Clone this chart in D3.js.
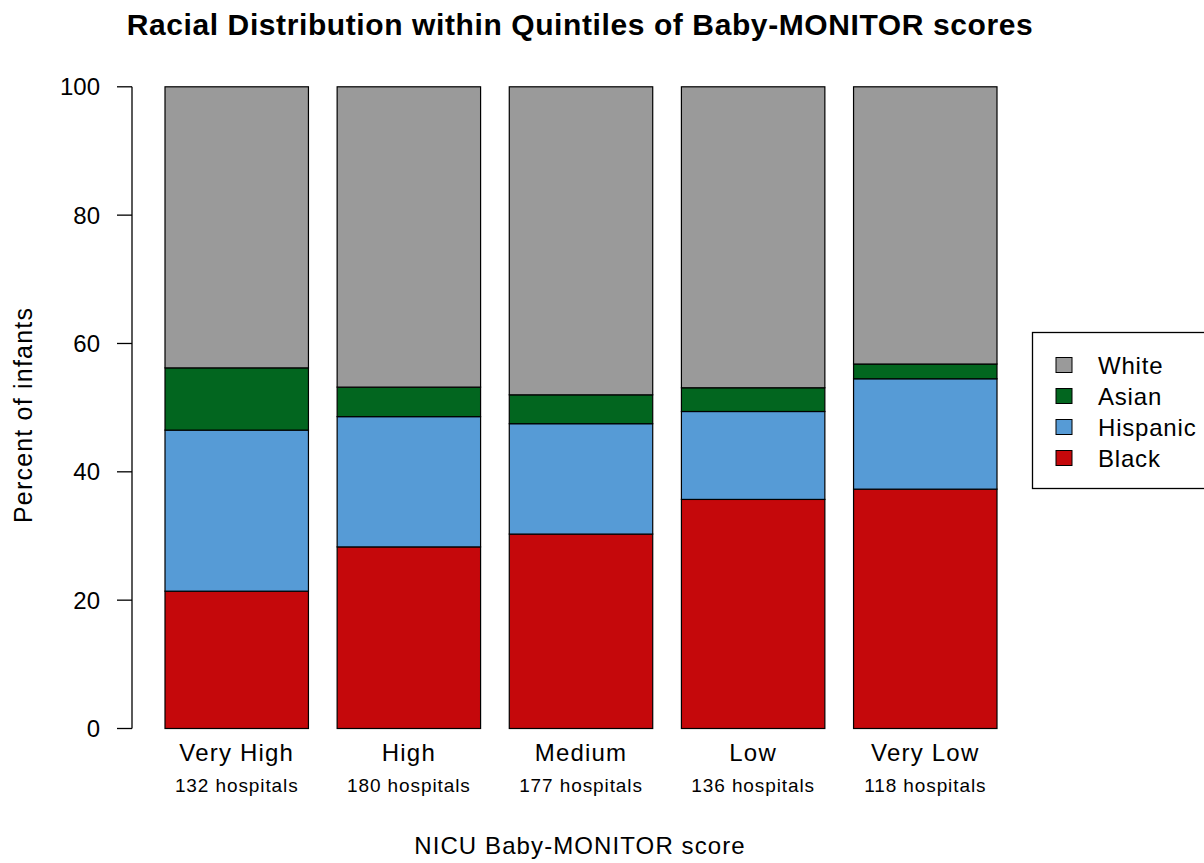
<!DOCTYPE html>
<html lang="en">
<head>
    <meta charset="utf-8">
    <title>Racial Distribution within Quintiles</title>
    <script src="https://d3js.org/d3.v7.min.js"></script>
    <style type="text/css">
        body{
            margin: 0;
            background: #fff;
        }
        svg text{
            font-family: "Liberation Sans", Arial, sans-serif;
            fill: #000;
        }
    </style>
</head>
<body>
    <div id="frame"></div>
    <script type="text/javascript">

        // data
        const quintiles = ["Very High", "High", "Medium", "Low", "Very Low"];
        const hospitals = ["132 hospitals", "180 hospitals", "177 hospitals", "136 hospitals", "118 hospitals"];
        const races = ["Black", "Hispanic", "Asian", "White"];
        const black = [21.4, 28.3, 30.3, 35.7, 37.3];
        const hispanic = [25.1, 20.3, 17.2, 13.7, 17.2];
        const asian = [9.7, 4.6, 4.5, 3.7, 2.3];
        const white = [43.8, 46.8, 48.0, 46.9, 43.2];
        const yTicks = [0, 20, 40, 60, 80, 100];
        const colors = ["#c5080b", "#569bd6", "#02661f", "#9a9a9a"];

        const W = 1204, H = 863;

        const rows = quintiles.map((q, i) => ({
            q: q,
            Black: black[i],
            Hispanic: hispanic[i],
            Asian: asian[i],
            White: white[i]
        }));

        const stack = d3.stack().keys(races)(rows);

        const svg = d3.select("#frame").append("svg")
            .attr("width", W)
            .attr("height", H);

        const x = d3.scaleBand()
            .domain(quintiles)
            .range([165, 997])
            .paddingInner(1/6)
            .paddingOuter(0);

        const y = d3.scaleLinear()
            .domain([0, 100])
            .range([728.5, 86.8]);

        //stacked bars
        const layers = svg.selectAll("g.layer")
            .data(stack)
            .enter()
            .append("g")
            .attr("class", "layer")
            .attr("fill", (d, i) => colors[i]);

        layers.selectAll("rect")
            .data(d => d)
            .enter()
            .append("rect")
            .attr("x", d => x(d.data.q))
            .attr("width", x.bandwidth())
            .attr("y", d => y(d[1]))
            .attr("height", d => y(d[0]) - y(d[1]))
            .attr("stroke", "#000")
            .attr("stroke-width", 1.2);

        //y axis, R style: line spans first to last tick
        const yAxis = svg.append("g").attr("transform", "translate(132,0)");
        yAxis.append("line")
            .attr("y1", y(0)).attr("y2", y(100))
            .attr("stroke", "#000").attr("stroke-width", 1.3);
        yAxis.selectAll("line.tick")
            .data(yTicks)
            .enter()
            .append("line")
            .attr("class", "tick")
            .attr("x1", 0).attr("x2", -15)
            .attr("y1", d => y(d)).attr("y2", d => y(d))
            .attr("stroke", "#000").attr("stroke-width", 1.3);
        yAxis.selectAll("text")
            .data(yTicks)
            .enter()
            .append("text")
            .attr("x", -32)
            .attr("y", d => y(d))
            .attr("dy", "0.36em")
            .attr("text-anchor", "end")
            .style("font-size", "24px")
            .text(d => d);

        //category labels
        svg.selectAll("text.cat")
            .data(quintiles)
            .enter()
            .append("text")
            .attr("class", "cat")
            .attr("x", d => x(d) + x.bandwidth() / 2)
            .attr("y", 761)
            .attr("text-anchor", "middle")
            .style("font-size", "24px")
            .style("letter-spacing", "1.2px")
            .text(d => d);

        svg.selectAll("text.hosp")
            .data(hospitals)
            .enter()
            .append("text")
            .attr("class", "hosp")
            .attr("x", (d, i) => x(quintiles[i]) + x.bandwidth() / 2)
            .attr("y", 792)
            .attr("text-anchor", "middle")
            .style("font-size", "19px")
            .style("letter-spacing", "0.9px")
            .text(d => d);

        //titles
        svg.append("text")
            .attr("x", 580)
            .attr("y", 35)
            .attr("text-anchor", "middle")
            .style("font-size", "30px")
            .style("font-weight", "bold")
            .style("letter-spacing", "0.6px")
            .text("Racial Distribution within Quintiles of Baby-MONITOR scores");

        svg.append("text")
            .attr("x", 580)
            .attr("y", 854)
            .attr("text-anchor", "middle")
            .style("font-size", "24px")
            .style("letter-spacing", "1.1px")
            .text("NICU Baby-MONITOR score");

        svg.append("text")
            .attr("transform", "translate(32,415) rotate(-90)")
            .attr("text-anchor", "middle")
            .style("font-size", "25px")
            .style("letter-spacing", "1.2px")
            .text("Percent of infants");

        //legend
        const legend = svg.append("g");
        legend.append("rect")
            .attr("x", 1032.5).attr("y", 332.5)
            .attr("width", 200).attr("height", 156)
            .attr("fill", "none")
            .attr("stroke", "#000").attr("stroke-width", 1.3);

        const legendOrder = races.slice().reverse();
        const items = legend.selectAll("g.item")
            .data(legendOrder)
            .enter()
            .append("g")
            .attr("class", "item")
            .attr("transform", (d, i) => "translate(0," + (365 + i * 31) + ")");

        items.append("rect")
            .attr("x", 1056).attr("y", -7.5)
            .attr("width", 16).attr("height", 15)
            .attr("fill", d => colors[races.indexOf(d)])
            .attr("stroke", "#000").attr("stroke-width", 1);

        items.append("text")
            .attr("x", 1098)
            .attr("dy", "0.36em")
            .style("font-size", "24px")
            .style("letter-spacing", "0.8px")
            .text(d => d);

    </script>
</body>
</html>
